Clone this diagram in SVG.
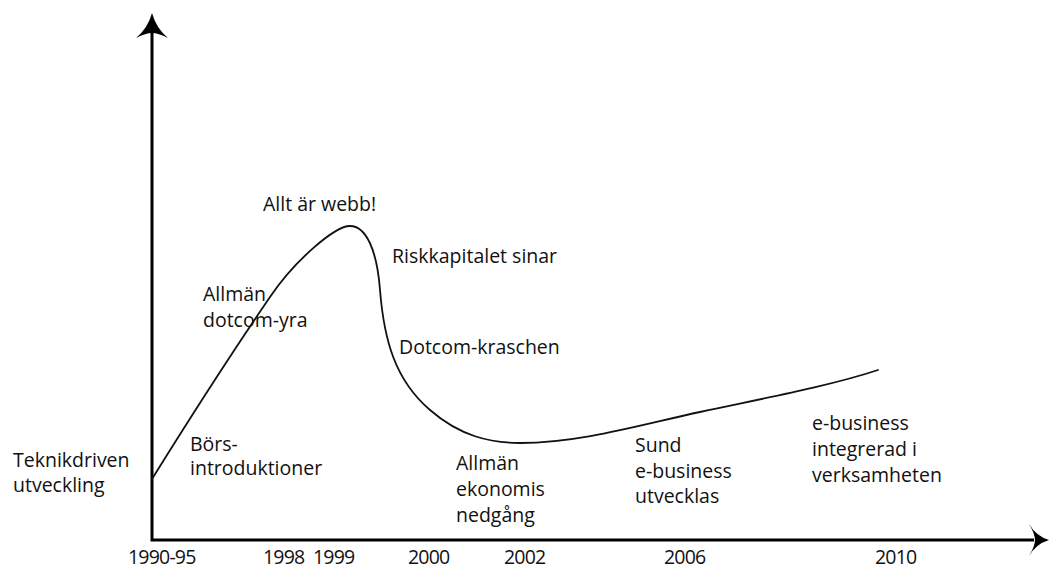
<svg xmlns="http://www.w3.org/2000/svg" width="1049" height="567" viewBox="0 0 1049 567">
  <style>
    .lbl { font-family: "Open Sans", "Liberation Sans", sans-serif; font-size: 19.5px; fill: #111; }
    .yr { letter-spacing: -0.8px; }
    .axis { fill: none; stroke: #000; stroke-width: 3; }
    .head { fill: #000; stroke: none; }
    .curve { fill: none; stroke: #111; stroke-width: 1.8; stroke-linecap: round; }
  </style>
  <rect width="1049" height="567" fill="#fff"/>

  <!-- axes -->
  <g id="axes">
    <path class="axis" d="M152,30 L152,540 L1034,540"/>
    <!-- y-axis arrowhead -->
    <path class="head" d="M152,13 Q156,28 168,38 Q158,33 152,33 Q146,33 136,38 Q148,28 152,13 Z"/>
    <!-- x-axis arrowhead -->
    <path class="head" d="M1049,540 Q1036,544 1029,556 Q1035,546 1035,540 Q1035,534 1029,524 Q1036,536 1049,540 Z"/>
  </g>

  <!-- development curve -->
  <g id="connectors">
    <path class="curve" d="M152,479 C180,434 220,370 270,297 C295,260 335,226 350,226 C366,226 377,250 380,290 C384,340 395,380 430,410 C460,436 490,443 520,443 C580,443 640,425 700,412 C760,399 830,386 878,370"/>
  </g>

  <!-- phase labels -->
  <g id="label-teknik">
    <text class="lbl" x="13" y="467">Teknikdriven</text>
    <text class="lbl" x="13" y="492">utveckling</text>
  </g>
  <g id="label-bors">
    <text class="lbl" x="190" y="451">Börs-</text>
    <text class="lbl" x="190" y="475">introduktioner</text>
  </g>
  <g id="label-yra">
    <text class="lbl" x="203" y="301">Allmän</text>
    <text class="lbl" x="203" y="327">dotcom-yra</text>
  </g>
  <g id="label-webb">
    <text class="lbl" x="263" y="211">Allt är webb!</text>
  </g>
  <g id="label-risk">
    <text class="lbl" x="392" y="263">Riskkapitalet sinar</text>
  </g>
  <g id="label-krasch">
    <text class="lbl" x="399" y="354">Dotcom-kraschen</text>
  </g>
  <g id="label-nedgang">
    <text class="lbl" x="456" y="470">Allmän</text>
    <text class="lbl" x="456" y="496">ekonomis</text>
    <text class="lbl" x="456" y="522">nedgång</text>
  </g>
  <g id="label-sund">
    <text class="lbl" x="635" y="452">Sund</text>
    <text class="lbl" x="635" y="478">e-business</text>
    <text class="lbl" x="635" y="503">utvecklas</text>
  </g>
  <g id="label-integrerad">
    <text class="lbl" x="812" y="430">e-business</text>
    <text class="lbl" x="812" y="456">integrerad i</text>
    <text class="lbl" x="812" y="482">verksamheten</text>
  </g>

  <!-- years along the time axis -->
  <g id="years">
    <text class="lbl yr" x="128" y="564">1990-95</text>
    <text class="lbl yr" x="263" y="564">1998</text>
    <text class="lbl yr" x="313" y="564">1999</text>
    <text class="lbl yr" x="408" y="564">2000</text>
    <text class="lbl yr" x="504" y="564">2002</text>
    <text class="lbl yr" x="664" y="564">2006</text>
    <text class="lbl yr" x="875" y="564">2010</text>
  </g>
</svg>
